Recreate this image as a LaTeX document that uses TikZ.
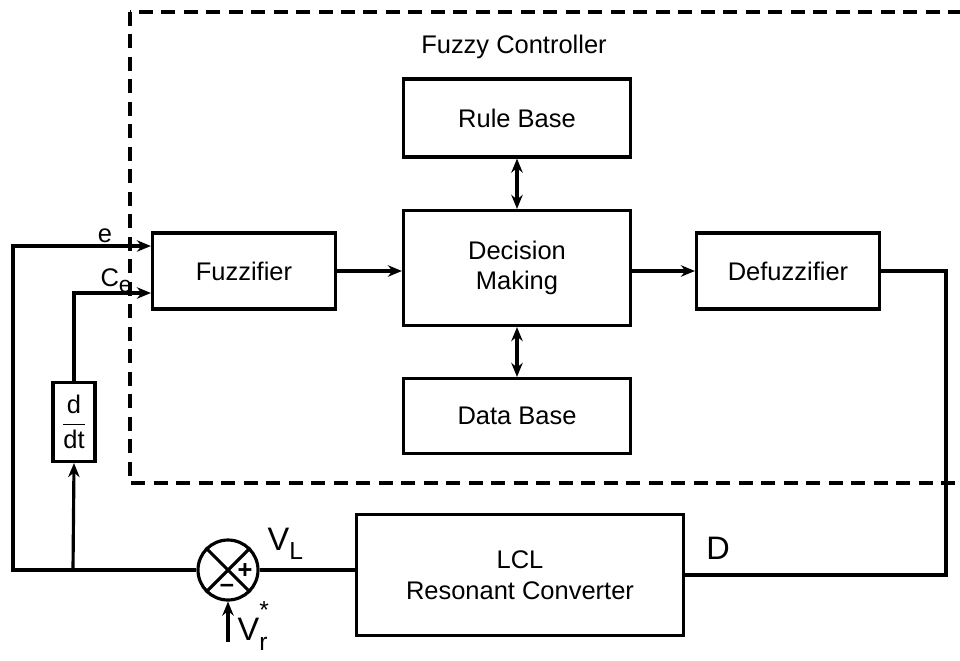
\documentclass[tikz,border=0pt]{standalone}
\usepackage{amsmath}
\usepackage{fontspec}
\setmainfont{Liberation Sans}
\usetikzlibrary{calc, arrows.meta}

\begin{document}
\begin{tikzpicture}[x=0.02cm, y=-0.02cm, line width=1.8pt,
		>={Stealth[length=8pt, width=6.5pt]},
		block/.style={draw, align=center, inner sep=0pt, font=\fontsize{14.5}{17.5}\selectfont},
		txt/.style={inner sep=0pt, font=\fontsize{14.5}{17.5}\selectfont},
		big/.style={inner sep=0pt, font=\fontsize{18.5}{22}\selectfont}]
		\useasboundingbox (0,0) rectangle (960,660);
		
		% fuzzy controller frame
		\draw [dash pattern=on 0.28cm off 0.17cm] (130,12) rectangle (975,483);
		\node [txt] (fctitle) at (514,47) {Fuzzy Controller};
		
		\node [block, minimum width=4.54cm, minimum height=1.56cm] (rule) at (517,118) {Rule Base};
		\node [block, minimum width=4.54cm, minimum height=2.3cm] (dec) at (517,268) {Decision\\Making};
		\node [block, minimum width=4.54cm, minimum height=1.5cm] (data) at (517,416) {Data Base};
		\node [block, minimum width=3.66cm, minimum height=1.52cm] (fuzz) at (244,271) {Fuzzifier};
		\node [block, minimum width=3.66cm, minimum height=1.52cm] (defuzz) at (788,271) {Defuzzifier};
		\node [block, minimum width=6.54cm, minimum height=2.42cm] (lcl) at (520,575) {LCL\\Resonant Converter};
		\node [block, minimum width=0.84cm, minimum height=1.58cm] (ddt) at (74,422) {$\dfrac{\text{d}}{\text{dt}}$};
		
		% summing junction
		\node [draw, circle, minimum size=1.2cm, inner sep=0pt] (sum) at (228,570) {};
		\draw (sum.north west) -- (sum.south east);
		\draw (sum.north east) -- (sum.south west);
		\node [txt] (plus) at (245,571) {\textbf{+}};
		\node [txt] (minus) at (227,588) {\textbf{--}};
		
		\coordinate (tap) at (73,570);
		\coordinate (corner) at (946,271);
		\coordinate (vr) at (228,642);
		\coordinate (ein) at ($(fuzz.west)+(0,-25)$);
		\coordinate (cein) at ($(fuzz.west)+(0,22)$);
		
		\draw [->] (fuzz) -- (fuzz.east -| dec.west);
		\draw [->] (dec.east |- defuzz) -- (defuzz);
		\draw [<->] (rule) -- (dec);
		\draw [<->] (dec) -- (data);
		\draw (defuzz.east) -- (corner) |- (lcl.east);
		\draw (sum.east) -- (sum.east -| lcl.west);
		\draw [->] (sum.west) -- (13,570) |- (ein);
		\draw [->] (tap) -- (ddt.south);
		\draw [->] (ddt.north) |- (cein);
		\draw [->] (vr) -- (sum.south);
		
		\node [txt] (elab) at (105,236) {e};
		\node [txt, anchor=west] (celab) at (99,281) {C\raisebox{-0.45ex}{\fontsize{13}{13}\selectfont e}};
		\node [big, anchor=west] (vllab) at (266,544) {V\raisebox{-0.55ex}{\fontsize{14}{14}\selectfont L}};
		\node [big, anchor=west] (vrlab) at (236,626) {V\rlap{\raisebox{1.3ex}{\fontsize{14}{14}\selectfont *}}\raisebox{-0.55ex}{\fontsize{14}{14}\selectfont r}};
		\node [big] (dlab) at (718,548) {D};
	\end{tikzpicture}
\end{document}
